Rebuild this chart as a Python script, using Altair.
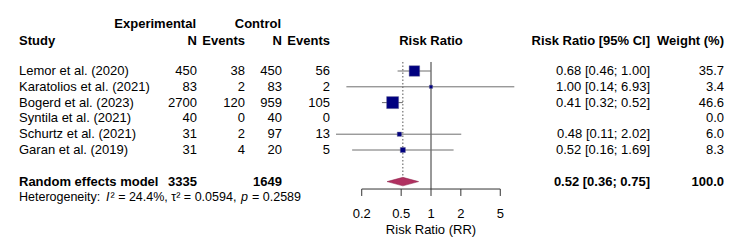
import altair as alt
import pandas as pd

# ---------------- data ----------------
studies = [
    "Lemor et al. (2020)",
    "Karatolios et al. (2021)",
    "Bogerd et al. (2023)",
    "Syntila et al. (2021)",
    "Schurtz et al. (2021)",
    "Garan et al. (2019)",
]
exp_n = [450, 83, 2700, 40, 31, 31]
exp_events = [38, 2, 120, 0, 2, 4]
ctl_n = [450, 83, 959, 40, 97, 20]
ctl_events = [56, 2, 105, 0, 13, 5]
rr = [0.68, 1.00, 0.41, None, 0.48, 0.52]
rr_lo = [0.46, 0.14, 0.32, None, 0.11, 0.16]
rr_hi = [1.00, 6.93, 0.52, None, 2.02, 1.69]
weight = [35.7, 3.4, 46.6, 0.0, 6.0, 8.3]

pooled_label = "Random effects model"
pooled_exp_n = 3335
pooled_ctl_n = 1649
pooled_rr = 0.52
pooled_lo = 0.36
pooled_hi = 0.75
pooled_weight = 100.0

het_i2 = "24.4%"
het_tau2 = "0.0594"
het_p = "0.2589"

axis_ticks = [0.2, 0.5, 1, 2, 5]
axis_tick_labels = ["0.2", "0.5", "1", "2", "5"]
axis_title = "Risk Ratio (RR)"

# ---------------- layout ----------------
FONT = "Liberation Sans"
FS = 13
W, H = 750, 247
ROW0_PX, ROW_PITCH = 71.0, 15.8          # first study row and row spacing
X_ONE_PX, PX_PER_DECADE = 431.0, 99.1    # position of RR = 1 and log-axis density

ROW_HEAD1, ROW_HEAD2 = -2.97, -1.93
ROW_POOLED, ROW_HET = 7, 8
ROW_AXIS, ROW_TICK_END = 7.47, 7.91
ROW_TICK_LABEL, ROW_AXIS_TITLE = 9.05, 10.06
ROW_LINE_TOP = -0.57
DIAMOND_HALF = 0.27

COL_STUDY = 19
COL_EXP_N, COL_EXP_EV = 197, 245
COL_CTL_N, COL_CTL_EV = 282, 330
COL_RR_TXT, COL_WEIGHT = 650, 724

SQUARE_COLOR = "#000080"
DIAMOND_COLOR = "#B03060"
CI_COLOR = "#6e6e6e"
REF_COLOR = "#333333"

y_scale = alt.Scale(domain=[-ROW0_PX / ROW_PITCH, (H - ROW0_PX) / ROW_PITCH],
                    reverse=True, nice=False, zero=False)
x_scale = alt.Scale(type="log", nice=False,
                    domain=[10 ** (-X_ONE_PX / PX_PER_DECADE),
                            10 ** ((W - X_ONE_PX) / PX_PER_DECADE)])


def fmt_ci(est, lo, hi):
    if est is None:
        return ""
    return f"{est:.2f} [{lo:.2f}; {hi:.2f}]"


df = pd.DataFrame({
    "row": list(range(len(studies))),
    "study": studies,
    "en": [str(v) for v in exp_n],
    "ee": [str(v) for v in exp_events],
    "cn": [str(v) for v in ctl_n],
    "ce": [str(v) for v in ctl_events],
    "rr": rr,
    "lo": rr_lo,
    "hi": rr_hi,
    "w": weight,
    "rr_txt": [fmt_ci(e, l, h) for e, l, h in zip(rr, rr_lo, rr_hi)],
    "w_txt": [f"{w:.1f}" for w in weight],
})
df_est = df.dropna(subset=["rr"])

pooled_df = pd.DataFrame([{
    "row": ROW_POOLED,
    "label": pooled_label,
    "en": str(pooled_exp_n),
    "cn": str(pooled_ctl_n),
    "rr_txt": fmt_ci(pooled_rr, pooled_lo, pooled_hi),
    "w_txt": f"{pooled_weight:.1f}",
}])

Y = alt.Y("row:Q", scale=y_scale, axis=None)


def text_col(data, field, x, align="right", bold=False, size=FS, italic=False):
    return alt.Chart(data).mark_text(
        align=align, baseline="middle", font=FONT, fontSize=size,
        fontWeight="bold" if bold else "normal",
        fontStyle="italic" if italic else "normal", color="black",
    ).encode(x=alt.value(x), y=Y, text=alt.Text(f"{field}:N"))


def label(text, row, x, align="right", bold=False, size=FS, italic=False):
    return text_col(pd.DataFrame([{"row": row, "t": text}]), "t", x, align, bold, size, italic)


layers = []

# column headers
headers = [
    ("Experimental", ROW_HEAD1, 196, "right"),
    ("Control", ROW_HEAD1, 281, "right"),
    ("Study", ROW_HEAD2, COL_STUDY, "left"),
    ("N", ROW_HEAD2, COL_EXP_N, "right"),
    ("Events", ROW_HEAD2, COL_EXP_EV, "right"),
    ("N", ROW_HEAD2, COL_CTL_N, "right"),
    ("Events", ROW_HEAD2, COL_CTL_EV, "right"),
    ("Risk Ratio", ROW_HEAD2, X_ONE_PX, "center"),
    ("Risk Ratio [95% CI]", ROW_HEAD2, COL_RR_TXT, "right"),
    ("Weight (%)", ROW_HEAD2, COL_WEIGHT, "right"),
]
for t, r, x, a in headers:
    layers.append(label(t, r, x, a, bold=True))

# study rows
layers += [
    text_col(df, "study", COL_STUDY, "left"),
    text_col(df, "en", COL_EXP_N),
    text_col(df, "ee", COL_EXP_EV),
    text_col(df, "cn", COL_CTL_N),
    text_col(df, "ce", COL_CTL_EV),
    text_col(df, "rr_txt", COL_RR_TXT),
    text_col(df, "w_txt", COL_WEIGHT),
]

# pooled row
layers += [
    text_col(pooled_df, "label", COL_STUDY, "left", bold=True),
    text_col(pooled_df, "en", COL_EXP_N, bold=True),
    text_col(pooled_df, "cn", COL_CTL_N, bold=True),
    text_col(pooled_df, "rr_txt", COL_RR_TXT, bold=True),
    text_col(pooled_df, "w_txt", COL_WEIGHT, bold=True),
]

# heterogeneity line, assembled from plain and italic pieces
HET_FS = 12.5
het_pieces = [
    ("Heterogeneity:", 19, False),
    ("I", 106, True),
    (f"\u00b2 = {het_i2}, \u03c4\u00b2 = {het_tau2},", 110.5, False),
    ("p", 241, True),
    (f"= {het_p}", 252, False),
]
for t, x, it in het_pieces:
    layers.append(label(t, ROW_HET, x, "left", size=HET_FS, italic=it))

# reference line at RR = 1 and dotted line at pooled estimate
ref_df = pd.DataFrame([{"x": 1.0, "top": ROW_LINE_TOP, "bot": ROW_AXIS}])
layers.append(alt.Chart(ref_df).mark_rule(color=REF_COLOR, strokeWidth=1).encode(
    x=alt.X("x:Q", scale=x_scale, axis=None), y=alt.Y("top:Q", scale=y_scale, axis=None), y2="bot:Q"))

pool_line_df = pd.DataFrame([{"x": pooled_rr, "top": ROW_LINE_TOP, "bot": ROW_POOLED - DIAMOND_HALF}])
layers.append(alt.Chart(pool_line_df).mark_rule(color="#555555", strokeWidth=1, strokeDash=[1.5, 2]).encode(
    x=alt.X("x:Q", scale=x_scale, axis=None), y=alt.Y("top:Q", scale=y_scale, axis=None), y2="bot:Q"))

# confidence intervals and weighted squares
layers.append(alt.Chart(df_est).mark_rule(color=CI_COLOR, strokeWidth=1).encode(
    x=alt.X("lo:Q", scale=x_scale, axis=None), x2="hi:Q", y=Y))
layers.append(alt.Chart(df_est).mark_square(color=SQUARE_COLOR, opacity=1,
                                            stroke="#5a5a8a", strokeWidth=0.4).encode(
    x=alt.X("rr:Q", scale=x_scale, axis=None), y=Y,
    size=alt.Size("w:Q", scale=alt.Scale(domain=[0, 46.6], range=[0, 144]), legend=None)))

# pooled diamond
diamond_df = pd.DataFrame({
    "x": [pooled_lo, pooled_rr, pooled_hi],
    "y1": [ROW_POOLED, ROW_POOLED - DIAMOND_HALF, ROW_POOLED],
    "y2": [ROW_POOLED, ROW_POOLED + DIAMOND_HALF, ROW_POOLED],
})
layers.append(alt.Chart(diamond_df).mark_area(color=DIAMOND_COLOR, opacity=1,
                                              stroke="#8a2048", strokeWidth=0.5).encode(
    x=alt.X("x:Q", scale=x_scale, axis=None),
    y=alt.Y("y1:Q", scale=y_scale, axis=None), y2="y2:Q"))

# hand-built x axis spanning the tick range only
axis_line_df = pd.DataFrame([{"a": axis_ticks[0], "b": axis_ticks[-1], "row": ROW_AXIS}])
layers.append(alt.Chart(axis_line_df).mark_rule(color=REF_COLOR, strokeWidth=1).encode(
    x=alt.X("a:Q", scale=x_scale, axis=None), x2="b:Q", y=Y))

ticks_df = pd.DataFrame({"x": axis_ticks, "lab": axis_tick_labels,
                         "top": ROW_AXIS, "bot": ROW_TICK_END, "row": ROW_TICK_LABEL})
layers.append(alt.Chart(ticks_df).mark_rule(color=REF_COLOR, strokeWidth=1).encode(
    x=alt.X("x:Q", scale=x_scale, axis=None), y=alt.Y("top:Q", scale=y_scale, axis=None), y2="bot:Q"))
layers.append(alt.Chart(ticks_df).mark_text(font=FONT, fontSize=FS, baseline="middle",
                                            align="center", color="black").encode(
    x=alt.X("x:Q", scale=x_scale, axis=None), y=Y, text="lab:N"))

title_df = pd.DataFrame([{"x": (axis_ticks[0] * axis_ticks[-1]) ** 0.5,
                          "row": ROW_AXIS_TITLE, "t": axis_title}])
layers.append(alt.Chart(title_df).mark_text(font=FONT, fontSize=FS, baseline="middle",
                                            align="center", color="black").encode(
    x=alt.X("x:Q", scale=x_scale, axis=None), y=Y, text="t:N"))

chart = alt.layer(*layers).properties(
    width=W, height=H, padding=0, autosize="none", background="white"
).configure_view(stroke=None)

chart.save("out.html", embed_options={"renderer": "svg", "actions": False})
